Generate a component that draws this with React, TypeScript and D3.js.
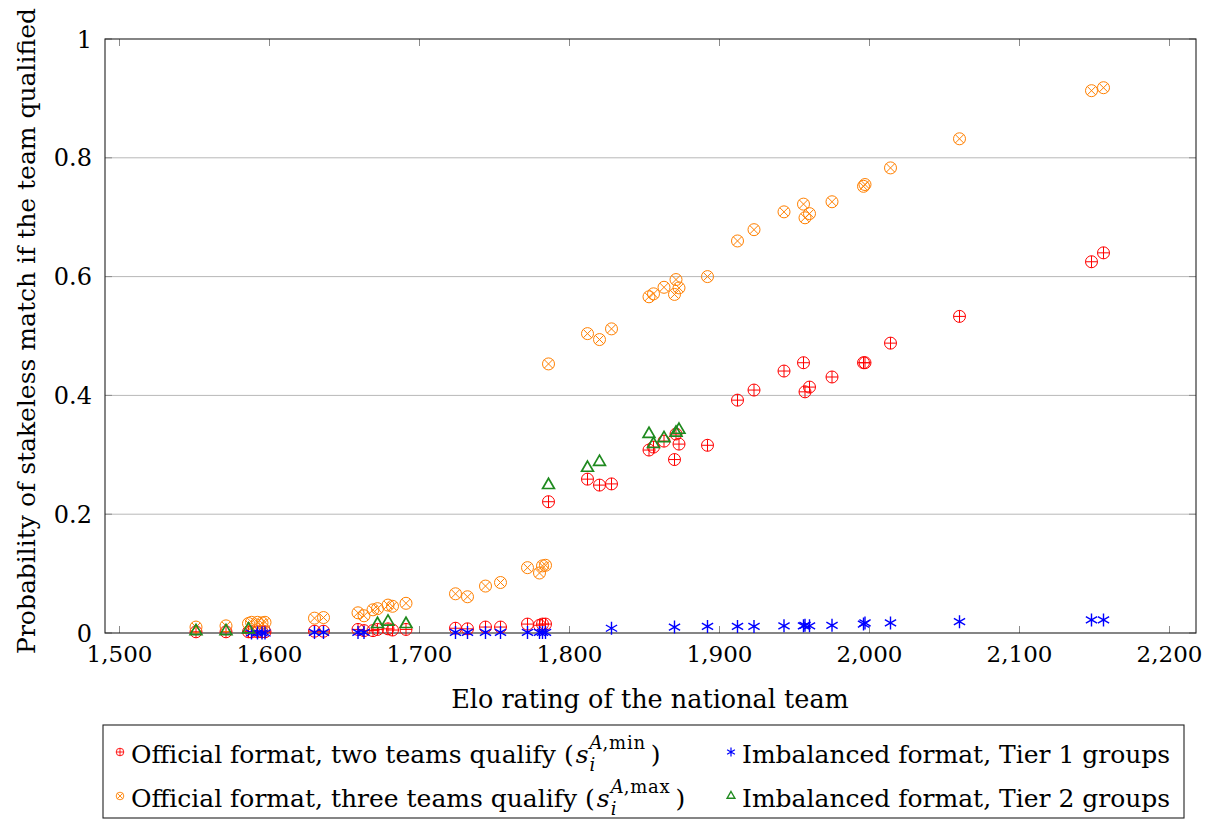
import { useRef, useEffect } from "react";
import * as d3 from "d3";

// tick values
const xTicks = [1500, 1600, 1700, 1800, 1900, 2000, 2100, 2200];
const yTicks = [0, 0.2, 0.4, 0.6, 0.8, 1];

// official format (same teams for both variants)
const officialElo = [
  1551, 1571, 1586, 1588, 1592, 1595, 1597, 1630, 1636, 1659, 1663, 1669, 1672, 1679, 1682, 1691,
  1724, 1732, 1744, 1754, 1772, 1780, 1782, 1784, 1786, 1812, 1820, 1828, 1853, 1856, 1863, 1870,
  1871, 1873, 1892, 1912, 1923, 1943, 1956, 1957, 1960, 1975, 1996, 1997, 2014, 2060, 2148, 2156,
];
const twoQualifyProb = [
  0.002, 0.002, 0.002, 0.002, 0.002, 0.002, 0.002, 0.003, 0.003, 0.006, 0.004, 0.004, 0.006, 0.007, 0.005, 0.006,
  0.008, 0.007, 0.01, 0.01, 0.015, 0.013, 0.015, 0.015, 0.221, 0.259, 0.249, 0.251, 0.308, 0.313, 0.323, 0.292,
  0.335, 0.318, 0.316, 0.392, 0.409, 0.441, 0.455, 0.406, 0.414, 0.431, 0.455, 0.455, 0.488, 0.533, 0.625, 0.64,
];
const threeQualifyProb = [
  0.01, 0.012, 0.016, 0.018, 0.018, 0.017, 0.018, 0.025, 0.026, 0.034, 0.029, 0.039, 0.041, 0.047, 0.045, 0.05,
  0.066, 0.061, 0.079, 0.085, 0.11, 0.101, 0.113, 0.114, 0.453, 0.504, 0.494, 0.512, 0.566, 0.571, 0.582, 0.57,
  0.595, 0.581, 0.6, 0.66, 0.679, 0.709, 0.722, 0.699, 0.706, 0.726, 0.752, 0.755, 0.783, 0.832, 0.913, 0.918,
];

// imbalanced format
const tier1Elo = [
  1588, 1592, 1595, 1597, 1630, 1636, 1659, 1663, 1724, 1732, 1744, 1754, 1772, 1780, 1782, 1784,
  1828, 1870, 1892, 1912, 1923, 1943, 1956, 1957, 1960, 1975, 1996, 1997, 2014, 2060, 2148, 2156,
];
const tier1Prob = [
  0, 0, 0, 0, 0.001, 0.001, 0.001, 0.001, 0.001, 0.001, 0.001, 0.001, 0.001, 0.001, 0.001, 0.001,
  0.008, 0.01, 0.011, 0.011, 0.011, 0.012, 0.012, 0.013, 0.012, 0.013, 0.015, 0.017, 0.017, 0.019, 0.022, 0.022,
];
const tier2Elo = [1551, 1571, 1586, 1672, 1679, 1691, 1786, 1812, 1820, 1853, 1856, 1863, 1871, 1873];
const tier2Prob = [0.003, 0.003, 0.006, 0.015, 0.019, 0.015, 0.249, 0.278, 0.288, 0.335, 0.318, 0.328, 0.337, 0.342];

const FONT = "DejaVu Serif, Liberation Serif, serif";
const FS_TICK = 23;
const FS_TITLE = 25.5;
const FS_LEG = 25;
const FS_SUP = 18;

export default function App() {
  const ref = useRef<SVGSVGElement>(null);

  useEffect(() => {
    const svg = d3.select(ref.current);
    svg.selectAll("*").remove();

    const left = 105, right = 1196, top = 39, bottom = 633;
    // 1500 sits at ~119.5px, 100 Elo = 150px
    const x = d3.scaleLinear().domain([1500 - 14.5 / 1.5, 1500 + (right - 119.5) / 1.5]).range([left, right]);
    const y = d3.scaleLinear().domain([0, 1]).range([bottom, top]);

    // grid
    svg
      .append("g")
      .selectAll("line")
      .data(yTicks.filter((d) => d > 0 && d < 1))
      .join("line")
      .attr("x1", left)
      .attr("x2", right)
      .attr("y1", (d) => y(d))
      .attr("y2", (d) => y(d))
      .attr("stroke", "#b8b8b8")
      .attr("stroke-width", 1);

    // inner ticks on all sides
    const tk = svg.append("g").attr("stroke", "#8c8c8c").attr("stroke-width", 1);
    xTicks.forEach((t) => {
      tk.append("line").attr("x1", x(t)).attr("x2", x(t)).attr("y1", bottom).attr("y2", bottom - 7);
      tk.append("line").attr("x1", x(t)).attr("x2", x(t)).attr("y1", top).attr("y2", top + 7);
    });
    yTicks.forEach((t) => {
      tk.append("line").attr("x1", left).attr("x2", left + 7).attr("y1", y(t)).attr("y2", y(t));
      tk.append("line").attr("x1", right).attr("x2", right - 7).attr("y1", y(t)).attr("y2", y(t));
    });

    // frame
    svg
      .append("rect")
      .attr("x", left)
      .attr("y", top)
      .attr("width", right - left)
      .attr("height", bottom - top)
      .attr("fill", "none")
      .attr("stroke", "#222")
      .attr("stroke-width", 1.1);

    // tick labels
    svg
      .append("g")
      .selectAll("text")
      .data(xTicks)
      .join("text")
      .attr("x", (d) => x(d))
      .attr("y", 662)
      .attr("text-anchor", "middle")
      .style("font-family", FONT)
      .attr("font-size", FS_TICK)
      .text((d) => d3.format(",")(d));

    svg
      .append("g")
      .selectAll("text")
      .data(yTicks)
      .join("text")
      .attr("x", 92)
      .attr("y", (d) => y(d) + 8.5)
      .attr("text-anchor", "end")
      .style("font-family", FONT)
      .attr("font-size", 24)
      .text((d) => (d === 0 ? "0" : d === 1 ? "1" : String(d)));

    // axis titles
    svg
      .append("text")
      .attr("x", 650)
      .attr("y", 708)
      .attr("text-anchor", "middle")
      .style("font-family", FONT)
      .attr("font-size", FS_TITLE)
      .text("Elo rating of the national team");

    svg
      .append("text")
      .attr("transform", `translate(35, 331) rotate(-90)`)
      .attr("text-anchor", "middle")
      .style("font-family", FONT)
      .attr("font-size", 25)
      .text("Probability of stakeless match if the team qualified");

    // markers
    const oplus = (r: number) => `M${-r},0A${r},${r} 0 1,0 ${r},0A${r},${r} 0 1,0 ${-r},0M${-r},0H${r}M0,${-r}V${r}`;
    const otimes = (r: number) => {
      const k = r * Math.SQRT1_2;
      return `M${-r},0A${r},${r} 0 1,0 ${r},0A${r},${r} 0 1,0 ${-r},0M${-k},${-k}L${k},${k}M${-k},${k}L${k},${-k}`;
    };
    const asterisk = (r: number) => {
      const a = r * Math.cos(Math.PI / 6), b = r * Math.sin(Math.PI / 6);
      return `M0,${-r}V${r}M${-a},${-b}L${a},${b}M${-a},${b}L${a},${-b}`;
    };
    const triangle = (r: number) => {
      const a = r * Math.cos(Math.PI / 6), b = r * 0.5;
      return `M0,${-r}L${a},${b}L${-a},${b}Z`;
    };

    const series = [
      { ex: officialElo, ps: twoQualifyProb, path: oplus(6), color: "#ff0000", w: 1 },
      { ex: officialElo, ps: threeQualifyProb, path: otimes(6), color: "#ff8000", w: 1 },
      { ex: tier1Elo, ps: tier1Prob, path: asterisk(6.5), color: "#0000ff", w: 1.4 },
      { ex: tier2Elo, ps: tier2Prob, path: triangle(6.8), color: "#1f8a1f", w: 1.7 },
    ];
    series.forEach((s) => {
      svg
        .append("g")
        .selectAll("path")
        .data(s.ex.map((e, i) => [e, s.ps[i]]))
        .join("path")
        .attr("transform", (d) => `translate(${x(d[0])},${y(d[1])})`)
        .attr("d", s.path)
        .attr("fill", "none")
        .attr("stroke", s.color)
        .attr("stroke-width", s.w);
    });

    // legend
    const lg = svg.append("g");
    lg.append("rect")
      .attr("x", 103)
      .attr("y", 725)
      .attr("width", 1081)
      .attr("height", 93)
      .attr("fill", "white")
      .attr("stroke", "#222")
      .attr("stroke-width", 1.1);

    const measure = (txt: string, size: number, italic = false) => {
      const t = svg
        .append("text")
        .style("font-family", FONT)
        .attr("font-size", size)
        .attr("font-style", italic ? "italic" : "normal")
        .text(txt);
      const w = (t.node() as SVGTextElement).getComputedTextLength();
      t.remove();
      return w;
    };

    const addItem = (mx: number, base: number, path: string, color: string, w: number, label: string, sup?: string) => {
      lg.append("path")
        .attr("transform", `translate(${mx},${base - 11})`)
        .attr("d", path)
        .attr("fill", "none")
        .attr("stroke", color)
        .attr("stroke-width", w);
      const x0 = mx + 11;
      const t = lg.append("text").attr("x", x0).attr("y", base).style("font-family", FONT).attr("font-size", FS_LEG);
      t.append("tspan").text(label);
      if (!sup) return;
      const sx = x0 + measure(label, FS_LEG) + 2;
      t.append("tspan").attr("x", sx).attr("font-style", "italic").text("s");
      const ix = sx + measure("s", FS_LEG, true) + 1;
      t.append("tspan").attr("x", ix).attr("dy", -14).attr("font-size", FS_SUP).attr("font-style", "italic").text("A");
      t.append("tspan").attr("font-size", FS_SUP).attr("letter-spacing", 0.8).text("," + sup);
      const supW = measure("A", FS_SUP, true) + measure("," + sup, FS_SUP) + 3;
      t.append("tspan").attr("x", ix).attr("dy", 22).attr("font-size", FS_SUP).attr("font-style", "italic").text("i");
      t.append("tspan").attr("x", ix + supW + 5).attr("dy", -8).text(")");
    };

    addItem(120, 763, oplus(3.8), "#ff0000", 0.9, "Official format, two teams qualify (", "min");
    addItem(120, 807, otimes(3.8), "#ff8000", 0.9, "Official format, three teams qualify (", "max");
    addItem(731, 763, asterisk(4.5), "#0000ff", 1.2, "Imbalanced format, Tier 1 groups");
    addItem(731, 807, triangle(4.5), "#1f8a1f", 1.4, "Imbalanced format, Tier 2 groups");
  }, []);

  return (
    <svg
      ref={ref}
      width={1207}
      height={821}
      style={{ position: "absolute", left: 0, top: 0, background: "white" }}
    />
  );
}
